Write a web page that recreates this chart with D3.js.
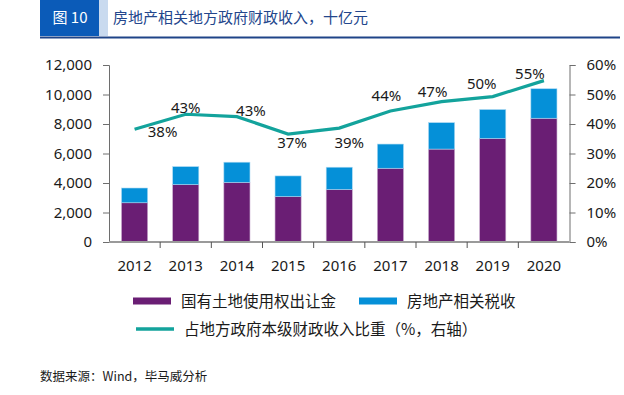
<!DOCTYPE html>
<html>
<head>
<meta charset="utf-8">
<script src="https://cdn.jsdelivr.net/npm/d3@7"></script>
<style>
  body { margin: 0; background: #fff; }
  svg { display: block; }
  text { font-family: "Noto Sans", "Noto Sans CJK SC", sans-serif; }
  .cjk { font-family: "Noto Sans CJK SC", sans-serif; }
</style>
</head>
<body>
<svg id="vis" width="624" height="395"></svg>
<script>
const years = ['2012', '2013', '2014', '2015', '2016', '2017', '2018', '2019', '2020']
const landSales = [2660, 3890, 4040, 3080, 3560, 5000, 6300, 7020, 8390]
const propertyTax = [1000, 1220, 1370, 1400, 1510, 1640, 1790, 1960, 2000]
const share = [38.2, 43.3, 42.5, 36.6, 38.6, 44.4, 47.6, 49.3, 54.7]
const shareLabels = ['38%', '43%', '43%', '37%', '39%', '44%', '47%', '50%', '55%']
const leftTicks = [0, 2000, 4000, 6000, 8000, 10000, 12000]
const rightTicks = [0, 10, 20, 30, 40, 50, 60]

// label nudges, as placed in the source chart
const labelNudge = [[28, 2.5], [0, -6], [14, -6], [4, 9], [10, 15], [-4, -15], [-9, -10], [-11, -13], [-14, -7]]

const colors = { land: '#6a1e74', tax: '#0590d8', line: '#13a39c' }

const svg = d3.select('#vis')

// header
svg.append('rect').attr('x', 40).attr('y', 0).attr('width', 59).attr('height', 36).attr('fill', '#0b5bb8')
svg.append('rect').attr('x', 99).attr('y', 0).attr('width', 9).attr('height', 36).attr('fill', '#c9daef')
svg.append('text').attr('class', 'cjk').attr('x', 70).attr('y', 23).attr('text-anchor', 'middle')
  .attr('fill', '#fff').style('font-size', '15px').text('图 10')
svg.append('text').attr('class', 'cjk').attr('x', 113).attr('y', 23)
  .attr('fill', '#23468c').style('font-size', '15px').text('房地产相关地方政府财政收入，十亿元')
svg.append('rect').attr('x', 40).attr('y', 36.5).attr('width', 580).attr('height', 2).attr('fill', '#1f4488')

const x = d3.scaleBand().domain(years).range([109, 569.5]).paddingInner(0.49).paddingOuter(0.245)
const y = d3.scaleLinear().domain([0, 12000]).range([242, 65])
const y2 = d3.scaleLinear().domain([0, 60]).range([242, 65])

// bars
const stacks = years.map((yr, i) => ({ yr, land: landSales[i], tax: propertyTax[i] }))
const g = svg.append('g')
g.selectAll('.land').data(stacks).enter().append('rect')
  .attr('x', d => x(d.yr)).attr('width', x.bandwidth())
  .attr('y', d => y(d.land)).attr('height', d => y(0) - y(d.land))
  .attr('fill', colors.land).attr('stroke', '#c7a9cc').attr('stroke-width', 0.6)
g.selectAll('.tax').data(stacks).enter().append('rect')
  .attr('x', d => x(d.yr)).attr('width', x.bandwidth())
  .attr('y', d => y(d.land + d.tax)).attr('height', d => y(d.land) - y(d.land + d.tax))
  .attr('fill', colors.tax).attr('stroke', '#a9d8f2').attr('stroke-width', 0.6)

// axes
const leftAxis = svg.append('g').attr('transform', 'translate(109,0)')
  .call(d3.axisLeft(y).tickValues(leftTicks).tickSize(6).tickPadding(11).tickFormat(d3.format(',')))
const rightAxis = svg.append('g').attr('transform', 'translate(569.5,0)')
  .call(d3.axisRight(y2).tickValues(rightTicks).tickSize(6).tickPadding(11).tickFormat(d => d + '%'))
for (const a of [leftAxis, rightAxis]) {
  a.select('.domain').attr('stroke', '#6e6e6e')
  a.selectAll('.tick line').attr('stroke', '#6e6e6e')
  a.selectAll('text').attr('fill', '#1a1a1a').style('font-size', '15px')
}

const bottom = svg.append('g').attr('transform', 'translate(0,242)')
bottom.append('line').attr('x1', 109).attr('x2', 569.5).attr('stroke', '#9a9a9a').attr('stroke-width', 2)
bottom.selectAll('.sep').data(years.slice(1)).enter().append('line')
  .attr('x1', d => x(d) - x.step() * x.paddingInner() / 2).attr('x2', d => x(d) - x.step() * x.paddingInner() / 2)
  .attr('y1', 0).attr('y2', 6).attr('stroke', '#555')
bottom.selectAll('.yl').data(years).enter().append('text')
  .attr('x', d => x(d) + x.bandwidth() / 2).attr('y', 29).attr('text-anchor', 'middle')
  .attr('fill', '#1a1a1a').style('font-size', '15px').text(d => d)

// share line
const cx = i => x(years[i]) + x.bandwidth() / 2
svg.append('path').datum(share)
  .attr('d', d3.line().x((d, i) => cx(i)).y(d => y2(d)))
  .attr('fill', 'none').attr('stroke', colors.line).attr('stroke-width', 3.2)
svg.selectAll('.pl').data(shareLabels).enter().append('text')
  .attr('x', (d, i) => cx(i) + labelNudge[i][0])
  .attr('y', (d, i) => y2(share[i]) + labelNudge[i][1] + 5)
  .attr('text-anchor', 'middle').attr('fill', '#1a1a1a').style('font-size', '15px').text(d => d)

// legend
const legend = [
  { label: '国有土地使用权出让金', color: colors.land, x: 133, y: 301, h: 7 },
  { label: '房地产相关税收', color: colors.tax, x: 359, y: 301, h: 7 },
  { label: '占地方政府本级财政收入比重（%，右轴）', color: colors.line, x: 136, y: 329, h: 3.5 }
]
const lg = svg.selectAll('.lg').data(legend).enter().append('g')
lg.append('rect').attr('x', d => d.x).attr('y', d => d.y - d.h / 2).attr('width', 38).attr('height', d => d.h)
  .attr('fill', d => d.color)
lg.append('text').attr('class', 'cjk').attr('x', d => d.x + 48).attr('y', d => d.y + 5.5)
  .attr('fill', '#1a1a1a').style('font-size', '15.5px').text(d => d.label)

svg.append('text').attr('class', 'cjk').attr('x', 40).attr('y', 381)
  .attr('fill', '#1a1a1a').style('font-size', '12.5px').text('数据来源：Wind，毕马威分析')
</script>
</body>
</html>
